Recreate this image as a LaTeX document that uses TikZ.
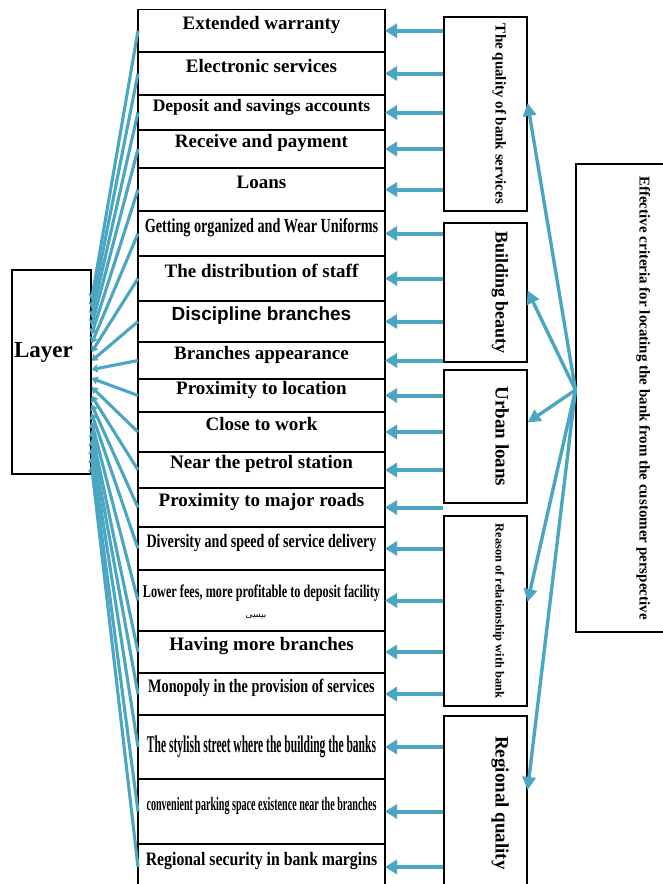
\documentclass[tikz,border=0pt]{standalone}
\usepackage{fontspec}
\usepackage{graphicx}
\usepackage{xcolor}
\setmainfont{Liberation Serif}
\newfontfamily\sanshead{Liberation Sans}
\newfontfamily\arabicfont[Script=Arabic]{DejaVu Sans}
\TeXXeTstate=1
\usetikzlibrary{arrows.meta,positioning}
\definecolor{linkblue}{HTML}{4AA6C2}
\newcommand{\sz}[1]{\fontsize{#1}{#1}\selectfont}

\tikzset{
    cell/.style={draw, line width=1.1pt, outer sep=0pt, inner sep=0pt, minimum width=247,
        text height=14pt, text depth=17pt, font=\bfseries\sz{19}},
    group/.style={draw, line width=1.1pt, rotate=-90, minimum height=83,
        text height=12pt, text depth=32pt},
    feed/.style={-{Triangle[width=14pt,length=12pt]}, line width=4pt, linkblue},
    pick/.style={-{Triangle[width=13pt,length=13pt]}, line width=3.4pt, linkblue},
    fan/.style={-{Triangle[width=8pt,length=6pt]}, line width=3.1pt, linkblue}
}

\begin{document}
\begin{tikzpicture}[x=1pt, y=-1pt]
        \useasboundingbox (0,0) rectangle (663,884);
        \clip (0,0) rectangle (663,884);
        % Layer
        \node[draw, line width=1.1pt, minimum width=79, minimum height=204, text width=75, inner xsep=2pt,
            align=left, text height=16pt, text depth=45pt, font=\bfseries\sz{23}] (L) at (51.5,372) {Layer};
        % Sub criteria
        \node[cell, minimum height=42.5] (C1) at (261.5,30.75) {Extended warranty};
        \node[cell, minimum height=43, below=0pt of C1] (C2) {Electronic services};
        \node[cell, minimum height=35, below=0pt of C2, font=\bfseries\sz{17.5}] (C3) {Deposit and savings accounts};
        \node[cell, minimum height=38, below=0pt of C3] (C4) {Receive and payment};
        \node[cell, minimum height=43, below=0pt of C4] (C5) {Loans};
        \node[cell, minimum height=45, below=0pt of C5, font=\bfseries\sz{20}] (C6) {\scalebox{0.71}[1]{Getting organized and Wear Uniforms}};
        \node[cell, minimum height=45, below=0pt of C6] (C7) {The distribution of staff};
        \node[cell, minimum height=41, below=0pt of C7, font=\sanshead\bfseries\sz{19}] (C8) {Discipline branches};
        \node[cell, minimum height=37, below=0pt of C8] (C9) {Branches appearance};
        \node[cell, minimum height=33, below=0pt of C9] (C10) {Proximity to location};
        \node[cell, minimum height=40, below=0pt of C10] (C11) {Close to work};
        \node[cell, minimum height=36, below=0pt of C11] (C12) {Near the petrol station};
        \node[cell, minimum height=39, below=0pt of C12] (C13) {Proximity to major roads};
        \node[cell, minimum height=43, below=0pt of C13] (C14) {\scalebox{0.74}[1]{Diversity and speed of service delivery}};
        \node[cell, minimum height=61, below=0pt of C14, font=\bfseries\sz{18}, text depth=21pt] (C15) {\scalebox{0.68}[1]{Lower fees, more profitable to deposit facility}};
        \node[cell, minimum height=42, below=0pt of C15] (C16) {Having more branches};
        \node[cell, minimum height=42, below=0pt of C16] (C17) {\scalebox{0.75}[1]{Monopoly in the provision of services}};
        \node[cell, minimum height=64, below=0pt of C17, font=\bfseries\sz{24}, text height=17pt, text depth=6pt] (C18) {\scalebox{0.48}[1]{The stylish street where the building the banks}};
        \node[cell, minimum height=65, below=0pt of C18] (C19) {\scalebox{0.53}[1]{convenient parking space existence near the branches}};
        \node[cell, minimum height=46, below=0pt of C19] (C20) {\scalebox{0.83}[1]{Regional security in bank margins}};
        \node[font=\arabicfont\sz{9}] (A) at (256,617) {\beginR بیسی\endR};
        % Criteria
        \node[group, minimum width=194, font=\bfseries\sz{15}] (Q) at (485.5,114) {The quality of bank services};
        \node[group, minimum width=139, font=\bfseries\sz{18}] (B) at (485.5,292.5) {Building beauty};
        \node[group, minimum width=133, font=\bfseries\sz{19}] (U) at (485.5,436.5) {Urban loans};
        \node[group, minimum width=190, font=\bfseries\sz{12.4}] (R) at (485.5,611) {Reason of relationship with bank};
        \node[group, minimum width=174, font=\bfseries\sz{19}] (G) at (485.5,803) {Regional quality};
        \node[group, minimum width=468, minimum height=130, text height=12pt, text depth=9pt, font=\bfseries\sz{15}] (E) at (641,398)
            {Effective criteria for locating the bank from the customer perspective};
        % Arrows
        \path[pick] ([yshift=8pt]E.south) edge ([yshift=11pt]Q.north)
            ([yshift=8pt]E.south) edge ([yshift=2pt]B.north)
            ([yshift=8pt]E.south) edge ([yshift=14pt]U.north)
            ([yshift=8pt]E.south) edge ([yshift=9pt]R.north)
            ([yshift=8pt]E.south) edge ([yshift=13pt]G.north);
        \foreach \i/\g in {1/Q,2/Q,3/Q,4/Q,5/Q,6/B,7/B,8/B,9/B,10/U,11/U,12/U,13/U,
            14/R,15/R,16/R,17/R,18/G,19/G,20/G}
            \path[feed] (\g.south |- C\i.east) edge (C\i.east);
        \foreach \i in {1,...,20}
            \path[fan] (C\i.west) edge ([yshift={72pt-8.7pt*(\i-1)}]L.east);
    \end{tikzpicture}
\end{document}
